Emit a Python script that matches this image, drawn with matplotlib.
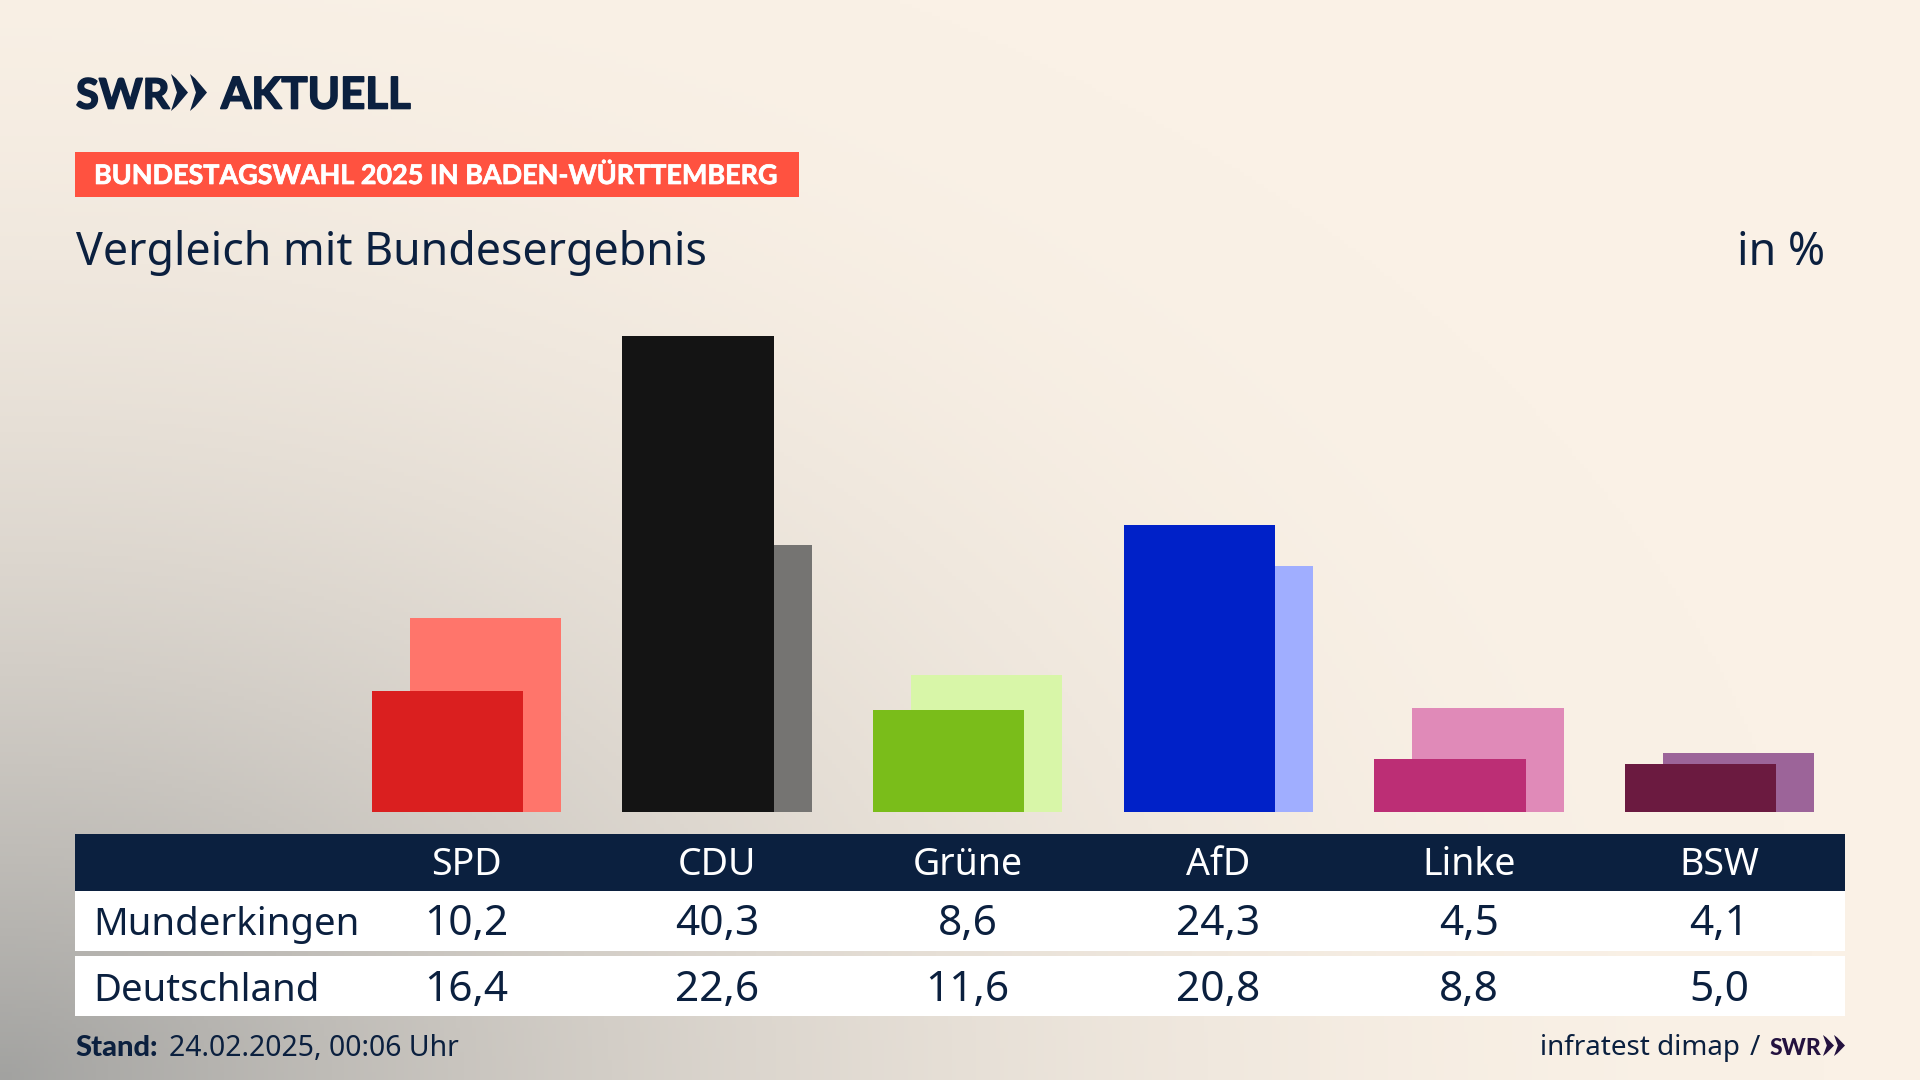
"""
Vergleich Munderkingen / Deutschland, Bundestagswahl 2025, redrawn with matplotlib.
"""

import matplotlib

matplotlib.use("Agg")

import matplotlib.pyplot as plt
import matplotlib.patches as patches
import matplotlib.patheffects as effects
import numpy as np

WIDTH = 1920
HEIGHT = 1080
NAVY = "#0B203F"
FONT = "Noto Sans"
BOLD_FONT = "Lato"

# Party, local result, national result, dark colour, light colour
PARTIES = [
    ("SPD", 10.2, 16.4, "#DA1F1F", "#FF756B"),
    ("CDU", 40.3, 22.6, "#141414", "#757472"),
    ("Grüne", 8.6, 11.6, "#7ABD1A", "#D8F6A8"),
    ("AfD", 24.3, 20.8, "#0021C8", "#A0AEFF"),
    ("Linke", 4.5, 8.8, "#BC2E75", "#E08AB8"),
    ("BSW", 4.1, 5.0, "#6B1A40", "#9C6499"),
]

# Pixel layout of the bars
FIRST_CENTER = 466.5
GROUP_STEP = 250.6
BAR_WIDTH = 151.5 / GROUP_STEP
BAR_SHIFT = 19 / GROUP_STEP
BASELINE = 812
PX_PER_PERCENT = 11.82


def fmt(value):
    """German decimal comma."""
    return f"{value:.1f}".replace(".", ",")


def draw_background(fig):
    """Cream background with the grey glow from the lower left corner."""
    ax = fig.add_axes([0, 0, 1, 1], zorder=0)
    ax.axis("off")
    xx, yy = np.meshgrid(np.linspace(0, 1, 480), np.linspace(0, 1, 270))
    dist = np.clip(np.sqrt((xx / 0.95) ** 2 + (yy / 1.15) ** 2), 0, 1)
    mix = (1 - dist) ** 2.0
    cream = np.array([250, 241, 230]) / 255
    grey = np.array([162, 162, 160]) / 255
    img = cream + (grey - cream) * mix[..., None]
    ax.imshow(img, origin="lower", extent=[0, 1, 0, 1], aspect="auto")


def draw_bars(fig):
    """Bars with a real value axis, light national bars behind the local ones."""
    ax = fig.add_axes([0, 1 - BASELINE / HEIGHT, 1, BASELINE / HEIGHT], zorder=1)
    ax.patch.set_alpha(0)
    ax.axis("off")
    ax.set_xlim(-FIRST_CENTER / GROUP_STEP, (WIDTH - FIRST_CENTER) / GROUP_STEP)
    ax.set_ylim(0, BASELINE / PX_PER_PERCENT)

    for i, (_, local, national, dark, light) in enumerate(PARTIES):
        ax.bar(i + BAR_SHIFT, national, BAR_WIDTH, color=light, linewidth=0)
        ax.bar(i - BAR_SHIFT, local, BAR_WIDTH, color=dark, linewidth=0)


def chevrons(ax, x, top, bottom, w, gap, color):
    """The two arrows of the SWR logo."""
    mid = (top + bottom) / 2
    for k in range(2):
        x0 = x + k * gap
        ax.add_patch(
            patches.Polygon(
                [
                    (x0, top),
                    (x0 + w * 0.3, top + (bottom - top) * 0.12),
                    (x0 + w, mid),
                    (x0 + w * 0.3, bottom - (bottom - top) * 0.12),
                    (x0, bottom),
                    (x0 + w * 0.35, mid),
                ],
                facecolor=color,
                linewidth=0,
            )
        )


def draw_overlay(fig):
    """Logo, titles, table and footer, placed in pixel coordinates."""
    ax = fig.add_axes([0, 0, 1, 1], zorder=2)
    ax.patch.set_alpha(0)
    ax.axis("off")
    ax.set_xlim(0, WIDTH)
    ax.set_ylim(HEIGHT, 0)

    # logo
    thick = [effects.withStroke(linewidth=1.2, foreground=NAVY)]
    ax.text(76, 108.5, "SWR", fontsize=30, fontweight="bold", color=NAVY,
            family=BOLD_FONT, path_effects=thick)
    chevrons(ax, 171, 74, 111, 17, 19, NAVY)
    ax.text(221, 108.5, "AKTUELL", fontsize=31.5, fontweight="bold", color=NAVY,
            family=BOLD_FONT, path_effects=thick)

    # headline block
    ax.add_patch(patches.Rectangle((75, 152), 724, 45, facecolor="#FF5240", linewidth=0))
    ax.text(
        94, 184, "BUNDESTAGSWAHL 2025 IN BADEN-WÜRTTEMBERG",
        fontsize=19.4, fontweight="bold", color="white", family=BOLD_FONT,
        path_effects=[effects.withStroke(linewidth=0.5, foreground="white")],
    )
    ax.text(75.5, 265, "Vergleich mit Bundesergebnis", fontsize=32.2, color=NAVY, family=FONT)
    ax.text(1825, 265, "in %", fontsize=32.2, color=NAVY, family=FONT, ha="right")

    # table
    ax.add_patch(patches.Rectangle((75, 834), 1770, 57, facecolor=NAVY, linewidth=0))
    ax.add_patch(patches.Rectangle((75, 891), 1770, 60, facecolor="white", linewidth=0))
    ax.add_patch(patches.Rectangle((75, 956), 1770, 60, facecolor="white", linewidth=0))
    ax.text(93, 935, "Munderkingen", fontsize=27.6, color=NAVY, family=FONT)
    ax.text(93, 1001, "Deutschland", fontsize=27.6, color=NAVY, family=FONT)
    for i, (name, local, national, _, _) in enumerate(PARTIES):
        x = FIRST_CENTER + i * GROUP_STEP
        ax.text(x, 875, name, fontsize=27, color="white", family=FONT, ha="center")
        ax.text(x, 935, fmt(local), fontsize=30.5, color=NAVY, family=FONT, ha="center")
        ax.text(x, 1001, fmt(national), fontsize=30.5, color=NAVY, family=FONT, ha="center")

    # footer
    ax.text(75, 1056, "Stand:", fontsize=21, fontweight="black", color=NAVY, family=BOLD_FONT)
    ax.text(169, 1056, "24.02.2025, 00:06 Uhr", fontsize=20.4, color=NAVY, family=FONT)
    ax.text(1740, 1055, "infratest dimap", fontsize=20, color=NAVY, family=FONT, ha="right")
    ax.text(1760, 1055, "/", fontsize=20, color=NAVY, family=FONT, ha="right")
    ax.text(1770, 1055, "SWR", fontsize=16.5, fontweight="black", color="#24123F", family=BOLD_FONT)
    chevrons(ax, 1823, 1035, 1056, 11, 11, "#24123F")


def main():
    """The main entry point for the script."""
    fig = plt.figure(figsize=(WIDTH / 100, HEIGHT / 100), dpi=100)
    draw_background(fig)
    draw_bars(fig)
    draw_overlay(fig)
    fig.savefig("out.png", dpi=100)


if __name__ == "__main__":
    main()
